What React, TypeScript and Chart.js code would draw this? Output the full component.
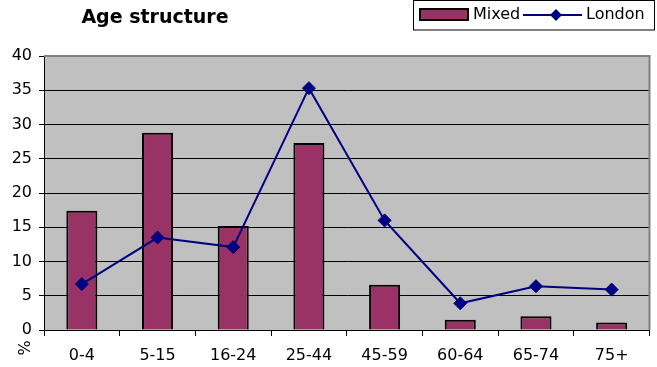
import React, { useEffect, useRef } from "react";
import { Chart, registerables } from "chart.js";

Chart.register(...registerables);

const categories = ["0-4", "5-15", "16-24", "25-44", "45-59", "60-64", "65-74", "75+"];
const mixedValues = [17.4, 28.8, 15.2, 27.3, 6.6, 1.5, 2.0, 1.1];
const londonValues = [6.7, 13.5, 12.1, 35.3, 16.0, 3.9, 6.4, 5.9];
const seriesNames = ["Mixed", "London"];
const titleText = "Age structure";
const yAxisLabel = "%";
const yMin = 0;
const yMax = 40;
const yStep = 5;

const FONT = "'DejaVu Sans', Verdana, sans-serif";
const BAR_COLOR = "#993366";
const LINE_COLOR = "#000080";

function drawDiamond(ctx: CanvasRenderingContext2D, x: number, y: number, r: number, color: string) {
  ctx.beginPath();
  ctx.moveTo(x, y - r);
  ctx.lineTo(x + r, y);
  ctx.lineTo(x, y + r);
  ctx.lineTo(x - r, y);
  ctx.closePath();
  ctx.fillStyle = color;
  ctx.fill();
}

const decorPlugin = {
  id: "decor",
  beforeDraw(chart: any) {
    const { ctx, chartArea } = chart;
    ctx.save();
    ctx.fillStyle = "#ffffff";
    ctx.fillRect(0, 0, chart.width, chart.height);
    ctx.fillStyle = "#C0C0C0";
    ctx.fillRect(chartArea.left, chartArea.top, chartArea.right - chartArea.left, chartArea.bottom - chartArea.top);
    ctx.restore();
  },
  afterDraw(chart: any) {
    const { ctx, chartArea } = chart;
    const ds = chart.data.datasets;
    const barDs = ds.find((d: any) => d.type === "bar");
    const lineDs = ds.find((d: any) => d.type === "line");
    ctx.save();
    // plot border top/right
    ctx.strokeStyle = "#808080";
    ctx.lineWidth = 2;
    ctx.beginPath();
    ctx.moveTo(chartArea.left, chartArea.top);
    ctx.lineTo(chartArea.right, chartArea.top);
    ctx.lineTo(chartArea.right, chartArea.bottom);
    ctx.stroke();

    // title
    ctx.fillStyle = "#000";
    ctx.font = `bold 19px ${FONT}`;
    ctx.textAlign = "center";
    ctx.textBaseline = "middle";
    ctx.fillText(titleText, 155, 18);

    // y axis label rotated
    ctx.save();
    ctx.translate(26, 348);
    ctx.rotate(-Math.PI / 2);
    ctx.font = `16px ${FONT}`;
    ctx.textAlign = "center";
    ctx.textBaseline = "middle";
    ctx.fillText(yAxisLabel, 0, 0);
    ctx.restore();

    // legend box
    ctx.fillStyle = "#fff";
    ctx.fillRect(413, 0, 242, 30);
    ctx.strokeStyle = "#000";
    ctx.lineWidth = 1;
    ctx.strokeRect(413.5, 0.5, 241, 29.5);

    // bar swatch
    ctx.fillStyle = barDs.backgroundColor;
    ctx.fillRect(420, 9, 48, 11);
    ctx.lineWidth = 2;
    ctx.strokeStyle = "#000";
    ctx.strokeRect(420, 9, 48, 11);
    ctx.fillStyle = "#000";
    ctx.font = `16px ${FONT}`;
    ctx.textAlign = "left";
    ctx.textBaseline = "middle";
    ctx.fillText(barDs.label, 473, 15);

    // line swatch
    ctx.strokeStyle = lineDs.borderColor;
    ctx.lineWidth = 2;
    ctx.beginPath();
    ctx.moveTo(523, 15);
    ctx.lineTo(582, 15);
    ctx.stroke();
    drawDiamond(ctx, 556, 15, 6, lineDs.borderColor);
    ctx.fillStyle = "#000";
    ctx.fillText(lineDs.label, 586, 15);
    ctx.restore();
  },
};

export default function App() {
  const ref = useRef<HTMLCanvasElement | null>(null);
  useEffect(() => {
    if (!ref.current) return;
    const chart = new Chart(ref.current, {
      type: "bar",
      data: {
        labels: categories,
        datasets: [
          {
            type: "line",
            label: seriesNames[1],
            data: londonValues,
            borderColor: LINE_COLOR,
            backgroundColor: LINE_COLOR,
            borderWidth: 2,
            pointStyle: "rectRot",
            pointRadius: 6.5,
            pointBorderWidth: 1,
            pointBackgroundColor: LINE_COLOR,
            pointBorderColor: LINE_COLOR,
            tension: 0,
            order: 0,
          } as any,
          {
            type: "bar",
            label: seriesNames[0],
            data: mixedValues,
            backgroundColor: BAR_COLOR,
            borderColor: "#000",
            borderWidth: 2,
            barPercentage: 0.41,
            categoryPercentage: 1,
            order: 1,
          } as any,
        ],
      },
      options: {
        animation: false,
        responsive: false,
        devicePixelRatio: 1,
        layout: { padding: { top: 56, right: 2, left: 0, bottom: 0 } },
        plugins: { legend: { display: false }, title: { display: false }, tooltip: { enabled: false } },
        scales: {
          x: {
            type: "category",
            offset: true,
            grid: { offset: true, drawOnChartArea: false, drawTicks: true, tickLength: 6, color: "#000" },
            border: { color: "#000", width: 1 },
            ticks: { font: { family: FONT, size: 16 }, color: "#000", padding: 10, maxRotation: 0, autoSkip: false },
            afterFit: (s: any) => { s.height = 37; },
          },
          y: {
            min: yMin,
            max: yMax,
            grid: { color: "#000", tickLength: 5, lineWidth: 1 },
            border: { color: "#000", width: 1 },
            ticks: { stepSize: yStep, font: { family: FONT, size: 16 }, color: "#000", padding: 7 },
            afterFit: (s: any) => { s.width = 44; },
          },
        },
      } as any,
      plugins: [decorPlugin],
    });
    return () => chart.destroy();
  }, []);
  return (
    <div style={{ position: "absolute", left: 0, top: 0, width: 657, height: 367 }}>
      <canvas ref={ref} width={657} height={367} />
    </div>
  );
}
